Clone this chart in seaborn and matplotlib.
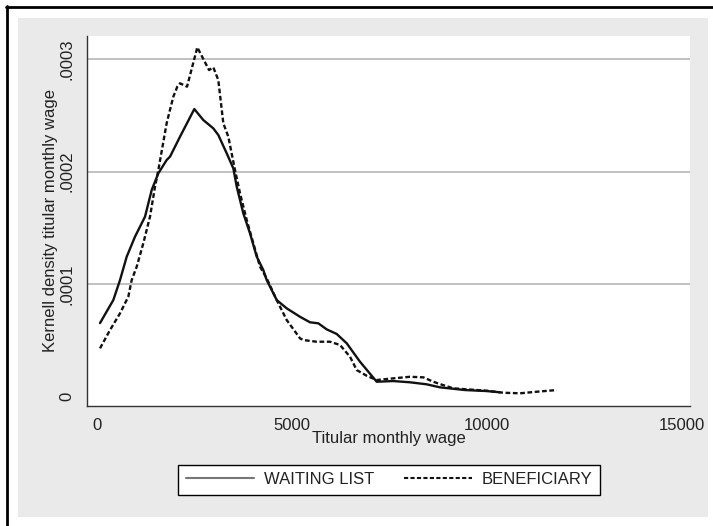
import matplotlib
matplotlib.use("Agg")
import matplotlib.pyplot as plt
import seaborn as sns
import pandas as pd
from matplotlib.patches import Rectangle
from matplotlib.lines import Line2D

# ---- data ----
series_names = ["WAITING LIST", "BENEFICIARY"]

waiting_x = [69, 411, 583, 755, 968, 1225, 1397, 1567, 1782, 1867, 2124, 2491,
             2722, 2979, 3107, 3323, 3493, 3580, 3749, 3921, 4094, 4263, 4350,
             4607, 4864, 5206, 5462, 5675, 5891, 6148, 6405, 6746, 7175, 7601,
             8030, 8459, 8801, 9442, 10000, 10342]
waiting_y = [6.52e-5, 8.57e-5, 1.035e-4, 1.243e-4, 1.421e-4, 1.599e-4, 1.837e-4,
             1.985e-4, 2.104e-4, 2.133e-4, 2.311e-4, 2.557e-4, 2.459e-4, 2.385e-4,
             2.326e-4, 2.163e-4, 2.029e-4, 1.866e-4, 1.629e-4, 1.451e-4, 1.243e-4,
             1.124e-4, 1.035e-4, 8.57e-5, 7.83e-5, 7.08e-5, 6.59e-5, 6.50e-5,
             5.96e-5, 5.55e-5, 4.72e-5, 3.08e-5, 1.30e-5, 1.36e-5, 1.25e-5,
             1.07e-5, 8.0e-6, 5.6e-6, 4.7e-6, 3.6e-6]

benef_x = [69, 326, 583, 796, 883, 1012, 1181, 1353, 1482, 1567, 1782, 1952,
           2054, 2124, 2304, 2568, 2869, 2979, 3107, 3236, 3364, 3536, 3665,
           3837, 4006, 4178, 4350, 4607, 4864, 5206, 5290, 5634, 5976, 6233,
           6490, 6662, 6918, 7175, 7601, 8030, 8372, 8629, 8801, 9142, 10000,
           10426, 10855, 11284, 11798]
benef_y = [4.27e-5, 5.90e-5, 7.39e-5, 8.87e-5, 1.035e-4, 1.154e-4, 1.362e-4,
           1.599e-4, 1.866e-4, 2.014e-4, 2.433e-4, 2.667e-4, 2.756e-4, 2.786e-4,
           2.756e-4, 3.106e-4, 2.904e-4, 2.928e-4, 2.815e-4, 2.430e-4, 2.311e-4,
           2.014e-4, 1.807e-4, 1.569e-4, 1.362e-4, 1.154e-4, 1.050e-4, 8.57e-5,
           6.79e-5, 5.16e-5, 5.01e-5, 4.86e-5, 4.86e-5, 4.57e-5, 3.52e-5,
           2.34e-5, 1.83e-5, 1.45e-5, 1.60e-5, 1.74e-5, 1.69e-5, 1.30e-5,
           1.09e-5, 7.1e-6, 5.0e-6, 3.2e-6, 2.7e-6, 4.1e-6, 5.6e-6]

x_ticks = [0, 5000, 10000, 15000]
x_tick_labels = ["0", "5000", "10000", "15000"]
y_ticks = [0, 0.0001, 0.0002, 0.0003]
y_tick_labels = ["0", ".0001", ".0002", ".0003"]
x_label = "Titular monthly wage"
y_label = "Kernell density titular monthly wage"

df = pd.concat([
    pd.DataFrame({"wage": waiting_x, "density": waiting_y, "group": series_names[0]}),
    pd.DataFrame({"wage": benef_x, "density": benef_y, "group": series_names[1]}),
], ignore_index=True)

# ---- styling ----
sns.set_theme(style="white")
plt.rcParams['font.family'] = ['Liberation Sans', 'DejaVu Sans']

W, H = 713, 526
fig = plt.figure(figsize=(W / 100, H / 100), dpi=100)
fig.patch.set_facecolor("white")

# outer gray panel and black frame lines
bg = Rectangle((18 / W, 1 - 517 / H), 690 / W, 499 / H,
               transform=fig.transFigure, facecolor="#EAEAEA",
               edgecolor="none", zorder=-10)
fig.add_artist(bg)
fig.add_artist(Line2D([6 / W, 1], [1 - 7 / H, 1 - 7 / H], color="black", lw=2,
                      transform=fig.transFigure, zorder=-5))
fig.add_artist(Line2D([7 / W, 7 / W], [0, 1 - 6 / H], color="black", lw=2,
                      transform=fig.transFigure, zorder=-5))

ax = fig.add_axes([87 / W, 1 - 406 / H, (690 - 87) / W, (406 - 36) / H])
ax.set_zorder(1)
ax.set_facecolor("white")

sns.lineplot(data=df, x="wage", y="density", hue="group", style="group",
             palette={series_names[0]: "#111111", series_names[1]: "#111111"},
             dashes={series_names[0]: "", series_names[1]: (2.0, 1.1)},
             estimator=None, sort=False, lw=1.7, legend=False, ax=ax, zorder=3)

ax.set_xlim(-265, 15221)
ax.set_ylim(-8.6e-6, 3.207e-4)

ax.set_xticks(x_ticks)
ax.set_xticklabels(x_tick_labels)
ax.set_yticks(y_ticks)
ax.set_yticklabels(y_tick_labels, rotation=90, va="center")

for s in ["top", "right"]:
    ax.spines[s].set_visible(False)
for s in ["left", "bottom"]:
    ax.spines[s].set_color("#333333")
    ax.spines[s].set_linewidth(1.0)

ax.tick_params(axis="both", which="major", direction="out", color="#333333",
               width=1.0, labelsize=12, labelcolor="#222222")
ax.tick_params(axis="x", length=6, pad=2.5)
ax.tick_params(axis="y", length=5, pad=4)

ax.yaxis.grid(True, color="#B0B0B0", lw=1.1)
ax.xaxis.grid(False)
ax.yaxis.get_major_ticks()[0].gridline.set_visible(False)

ax.set_xlabel(x_label, fontsize=12, color="#222222", labelpad=-1)
ax.set_ylabel(y_label, fontsize=12, color="#222222", labelpad=1)

handles = [Line2D([], [], color="#777777", lw=1.5),
           Line2D([], [], color="#111111", lw=1.5, dashes=(2.0, 1.1))]
leg = fig.legend(handles, series_names, loc="center",
                 bbox_to_anchor=(389 / W, 1 - 479.5 / H),
                 bbox_transform=fig.transFigure, ncol=2, frameon=True,
                 fancybox=False, edgecolor="black", framealpha=1,
                 facecolor="white", fontsize=12, handlelength=4.1,
                 handletextpad=0.55, columnspacing=1.8, borderpad=0.45)
leg.get_frame().set_linewidth(1.0)
for t in leg.get_texts():
    t.set_color("#222222")

fig.savefig("out.png", dpi=100, facecolor=fig.get_facecolor())
